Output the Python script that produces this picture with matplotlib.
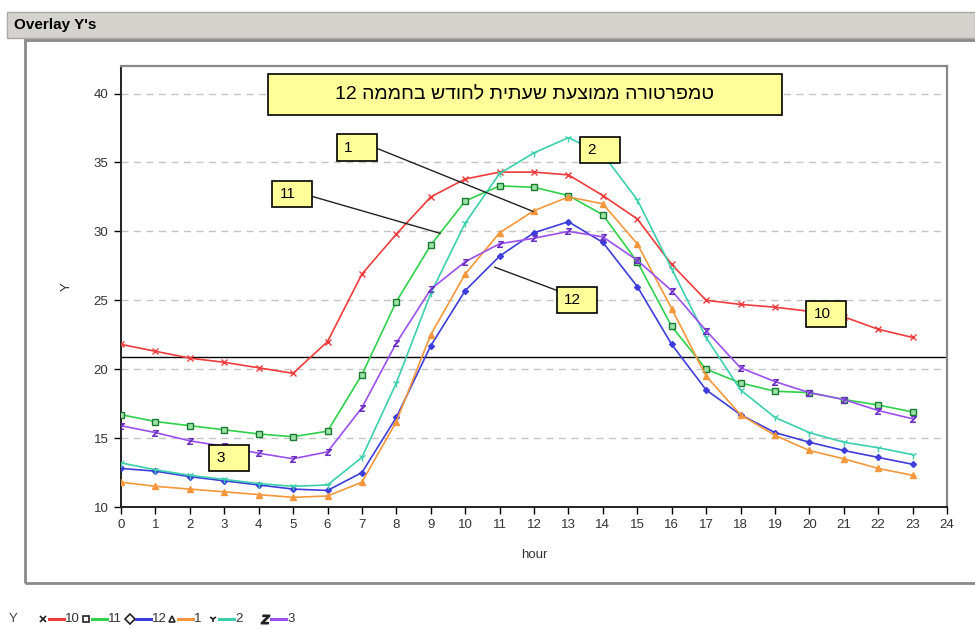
import matplotlib
matplotlib.use("Agg")
import matplotlib.pyplot as plt
from matplotlib.patches import Rectangle
from matplotlib.lines import Line2D

plt.rcParams['font.family'] = ['Liberation Sans', 'DejaVu Sans']

# hourly mean greenhouse temperature per month
hours = list(range(24))
t10 = [21.8, 21.3, 20.8, 20.5, 20.1, 19.7, 22.0, 26.9, 29.8, 32.5, 33.8, 34.3,
       34.3, 34.1, 32.6, 30.9, 27.6, 25.0, 24.7, 24.5, 24.2, 23.8, 22.9, 22.3]
t11 = [16.7, 16.2, 15.9, 15.6, 15.3, 15.1, 15.5, 19.6, 24.9, 29.0, 32.2, 33.3,
       33.2, 32.6, 31.2, 27.8, 23.1, 20.0, 19.0, 18.4, 18.3, 17.8, 17.4, 16.9]
t12 = [12.8, 12.6, 12.2, 11.9, 11.6, 11.3, 11.2, 12.5, 16.5, 21.7, 25.7, 28.2,
       29.9, 30.7, 29.2, 26.0, 21.8, 18.5, 16.7, 15.4, 14.7, 14.1, 13.6, 13.1]
t1 = [11.8, 11.5, 11.3, 11.1, 10.9, 10.7, 10.8, 11.8, 16.2, 22.5, 26.9, 29.9,
      31.5, 32.5, 32.0, 29.1, 24.4, 19.5, 16.7, 15.2, 14.1, 13.5, 12.8, 12.3]
t2 = [13.2, 12.7, 12.3, 12.0, 11.7, 11.5, 11.6, 13.6, 19.0, 25.5, 30.6, 34.2,
      35.7, 36.8, 35.6, 32.3, 27.3, 22.3, 18.5, 16.5, 15.4, 14.7, 14.3, 13.8]
t3 = [15.9, 15.4, 14.8, 14.4, 13.9, 13.5, 14.0, 17.2, 21.9, 25.8, 27.8, 29.1,
      29.5, 30.0, 29.6, 27.9, 25.7, 22.8, 20.1, 19.1, 18.3, 17.8, 17.0, 16.4]
ref_level = 20.9

series_names = ["10", "11", "12", "1", "2", "3"]
series_data = [t10, t11, t12, t1, t2, t3]
series_colors = ["#ee3b3b", "#2fd04a", "#3d3ddc", "#f5973a", "#3ccfae", "#9c4ff0"]
series_markers = ["x", "s", "D", "^", "1", "$Z$"]
marker_sizes = [5, 4, 3, 4, 6, 4.5]

title_he = "טמפרטורה ממוצעת שעתית לחודש בחממה"
# no bidi support in matplotlib, so feed the glyphs in visual order
title_text = "12 " + title_he[::-1]

W, H = 975, 629
fig = plt.figure(figsize=(W / 100, H / 100), dpi=100)


def fx(px):
    return px / W


def fy(py):
    return 1 - py / H


# window chrome: title bar and panel frame
fig.patches.append(Rectangle((fx(7), fy(38)), fx(968), 26 / H, transform=fig.transFigure,
                             facecolor="#d6d3ce", edgecolor="#a8a8a8", lw=1.0))
fig.text(fx(14), fy(25), "Overlay Y's", fontsize=11, fontweight="bold", va="center")
fig.patches.append(Rectangle((fx(25), fy(583)), fx(960), (583 - 40) / H,
                             transform=fig.transFigure, facecolor="none",
                             edgecolor="#8a8a8a", lw=2.0))

ax = fig.add_axes([fx(121), fy(507), fx(947 - 121), (507 - 66) / H])

for name, y, c, m, ms in zip(series_names, series_data, series_colors,
                             series_markers, marker_sizes):
    if m == "s":
        mfc, mec = "#9be3a6", "#1b7a32"
    elif m == "$Z$":
        mfc, mec = c, "#6a2fc0"
    else:
        mfc, mec = c, c
    ax.plot(hours, y, color=c, lw=1.2, marker=m, ms=ms,
            mew=0.6 if m == "$Z$" else 1.0, mec=mec, mfc=mfc, zorder=3)

ax.axhline(ref_level, color="black", lw=1.0, zorder=2)

ax.set_xlim(0, 24)
ax.set_ylim(10, 42)
ax.set_xticks(range(0, 25))
ax.set_yticks(range(10, 41, 5))
ax.yaxis.grid(True, ls=(0, (5, 4)), color="#c4c4c4", lw=1.0)
ax.set_axisbelow(True)
ax.tick_params(direction="out", length=5, width=1, labelsize=9.5,
               labelcolor="#333333", pad=4)
for s in ("left", "bottom"):
    ax.spines[s].set_linewidth(1.4)
    ax.spines[s].set_color("#222222")
for s in ("top", "right"):
    ax.spines[s].set_linewidth(1.6)
    ax.spines[s].set_color("#888888")

ax.set_xlabel("hour", fontsize=9.5, color="#333333")
ax.xaxis.set_label_coords(0.5, -0.095)
ax.set_ylabel("Y", fontsize=9.5, color="#333333")
ax.yaxis.set_label_coords(-0.059, 0.5)

box_face = "#ffff99"

# title box
ax.add_patch(Rectangle((4.27, 38.48), 19.2 - 4.27, 41.45 - 38.48, facecolor=box_face,
                       edgecolor="black", lw=1.2, zorder=5, clip_on=False))
ax.text(11.73, 39.95, title_text, fontsize=14, ha="center", va="center", zorder=6)

# callout boxes: label, lower-left corner, leader line end point, leader start
callouts = [
    ("1", (6.27, 35.14), (11.97, 31.45), (7.46, 36.0)),
    ("11", (4.39, 31.74), (9.27, 29.86), (5.55, 32.54)),
    ("2", (13.33, 34.93), None, None),
    ("12", (12.66, 24.06), (10.86, 27.4), (12.66, 25.72)),
    ("10", (19.90, 23.04), None, None),
    ("3", (2.56, 12.61), None, None),
]
bw, bh = 1.17, 1.89
for label, (x0, y0), tip, start in callouts:
    if tip is not None:
        ax.plot([start[0], tip[0]], [start[1], tip[1]], color="#222222", lw=1.0, zorder=4)
    ax.add_patch(Rectangle((x0, y0), bw, bh, facecolor=box_face, edgecolor="black",
                           lw=1.2, zorder=5))
    ax.text(x0 + 0.22, y0 + bh / 2, label, fontsize=11, ha="left", va="center",
            zorder=6)

# legend strip below the panel
ly = fy(619)
fig.text(fx(9), ly, "Y", fontsize=9.5, color="#444444", va="center")
legend_x = [43, 86, 130, 172, 213, 265]
for name, c, m, lx in zip(series_names, series_colors, series_markers, legend_x):
    fig.lines.append(Line2D([fx(lx)], [ly], transform=fig.transFigure, marker=m,
                            ms=5 if m != "$Z$" else 6, color="#222222", mfc="none"
                            if m in ("s", "D", "^") else "#222222", mew=1.2, lw=0))
    fig.lines.append(Line2D([fx(lx + 6), fx(lx + 21)], [ly, ly], transform=fig.transFigure,
                            color=c, lw=2.2))
    fig.text(fx(lx + 22), ly, name, fontsize=9.5, color="#333333", va="center")

fig.savefig("out.png", dpi=100, facecolor="white")
